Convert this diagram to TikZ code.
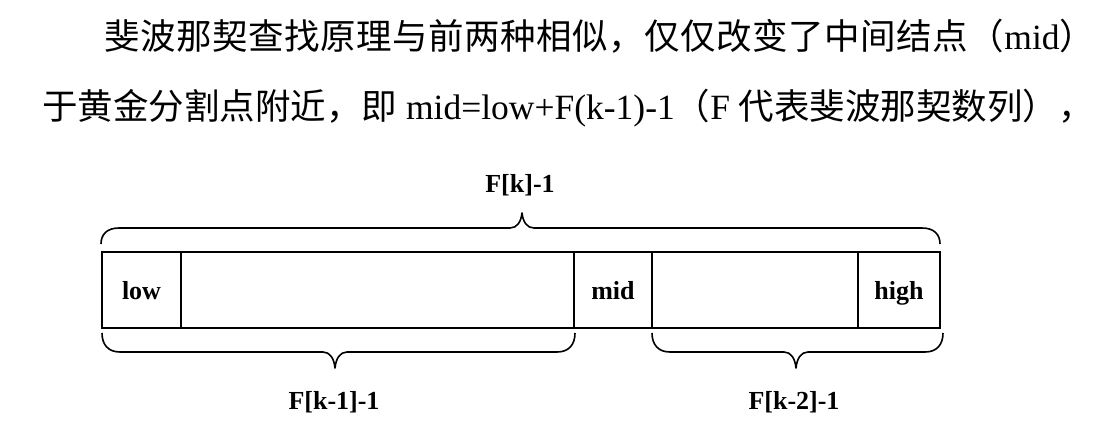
\documentclass[tikz,border=0pt]{standalone}
\usepackage{fontspec}
\setmainfont{Liberation Serif}
\newfontfamily\cjk{Noto Sans CJK SC}
\newfontfamily\cjkwide[LetterSpace=1.5]{Noto Sans CJK SC}
\newcommand\fibbrace[6]{% x1, x2, xm, y0, h1 (signed), h2 (signed)
  \draw[bracestyle] (#1,#4)
    .. controls (#1,{#4+0.6*(#5)}) and ({#1+6},{#4+#5}) .. ({#1+18},{#4+#5})
    -- ({#3-12},{#4+#5})
    .. controls ({#3-5},{#4+#5}) and ({#3-1},{#4+#5+0.4*(#6)}) .. (#3,{#4+#5+#6})
    .. controls ({#3+1},{#4+#5+0.4*(#6)}) and ({#3+5},{#4+#5}) .. ({#3+12},{#4+#5})
    -- ({#2-18},{#4+#5})
    .. controls ({#2-6},{#4+#5}) and (#2,{#4+0.6*(#5)}) .. (#2,#4);}
\begin{document}
\begin{tikzpicture}[x=1pt,y=-1pt,
  cell/.style={draw, line width=1.6pt, inner sep=0pt, outer sep=0pt,
    minimum height=76pt, text height=22pt, text depth=4pt,
    font=\bfseries\fontsize{26}{30}\selectfont},
  lab/.style={inner sep=0pt, font=\bfseries\fontsize{26}{30}\selectfont},
  bracestyle/.style={line width=1.6pt, line join=round},
  para/.style={inner sep=0pt, anchor=base west, font=\fontsize{35.5}{40}\selectfont}]
\useasboundingbox (0,0) rectangle (1094,433);
% paragraph text
\node[para] (l1) at (104,50) {{\cjkwide 斐波那契查找原理与前两种相似，仅仅改变了中间结点（}mid{\cjkwide ）}};
\node[para] (l2) at (42,120) {{\cjk 于黄金分割点附近，即} mid=low+F(k-1)-1{\cjk （}F {\cjk 代表斐波那契数列），}};
% array cells
\node[cell, minimum width=79pt]  (low)  at (141.5,290) {low};
\node[cell, minimum width=393pt] (left) at (377.5,290) {};
\node[cell, minimum width=78pt]  (mid)  at (613,290) {mid};
\node[cell, minimum width=206pt] (right) at (755,290) {};
\node[cell, minimum width=82pt]  (high) at (899,290) {high};
% braces
\fibbrace{101}{940}{522}{244}{-16}{-15}
\fibbrace{102}{575}{335}{333}{19}{16}
\fibbrace{652}{943}{796}{333}{19}{16}
% labels
\node[lab, anchor=base] (ltop) at (520,192) {F[k]-1};
\node[lab, anchor=base] (lk1) at (334,409) {F[k-1]-1};
\node[lab, anchor=base] (lk2) at (794,409) {F[k-2]-1};
\end{tikzpicture}
\end{document}
